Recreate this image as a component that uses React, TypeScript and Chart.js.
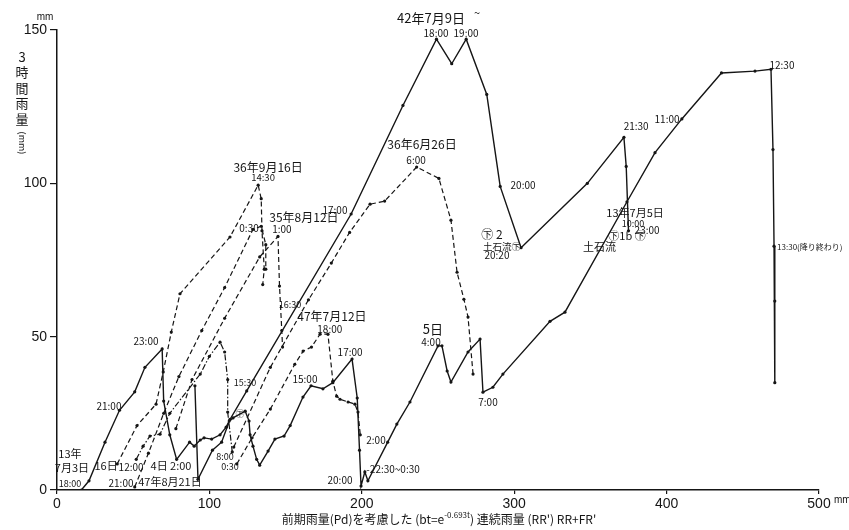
import React, { useEffect, useRef } from "react";
import { Chart, registerables } from "chart.js";

Chart.register(...registerables);

// ---- data (x: 前期雨量を考慮した連続雨量 mm, y: 3時間雨量 mm) ----
const xTicks = [0, 100, 200, 300, 400, 500];
const yTicks = [0, 50, 100, 150];

// 昭和13年7月3日〜5日 (solid)
const s13July: [number, number][] = [
  [16, 0], [21, 3], [31.5, 15.6], [41, 26], [51, 32], [57.7, 40], [69, 46],
  [70, 29], [74, 18], [78.5, 10], [87, 15.6], [90, 14.3], [94, 16.3], [96.5, 17],
  [101.5, 16.6], [107, 18], [111, 20.5], [113, 22.5], [115.5, 23.5], [123.5, 25.7],
  [126, 22.5], [126.7, 18], [128.6, 14.3], [131, 10], [133, 8.1], [138.5, 12.7],
  [143, 16.6], [149, 17.6], [153, 21], [161.4, 30.3], [166.7, 34], [174.5, 33],
  [181, 35], [193.6, 42.7], [197, 30], [198.5, 13], [199.5, 1.3], [202, 5.9],
  [204, 3], [217, 15.6], [223, 21.5], [231.6, 28.7], [250, 47], [252.6, 47],
  [256, 38.8], [258.5, 35.2], [269.7, 45], [277.6, 49.2], [279.5, 31.9],
  [286, 33.5], [292.6, 37.8], [323.5, 55], [333.3, 58], [374, 94], [392.4, 110],
  [410, 121], [436, 136], [458, 136.6], [468.5, 137.2], [469.8, 111],
  [470.5, 79.5], [471, 61.6], [471, 35],
];

// 昭和42年7月9日〜 (solid)
const s42July: [number, number][] = [
  [90.5, 34], [92.5, 3.5], [102, 13], [108, 15.6], [113.5, 23], [124.5, 32.3],
  [193, 90], [227, 125.4], [249, 147], [259, 139], [268.5, 147], [282, 129],
  [290.8, 99], [304.5, 79], [348, 100], [372, 115], [373.5, 105.5], [375, 84.5],
];

// 昭和36年9月16日 (dashed)
const s36Sep: [number, number][] = [
  [39.5, 8.5], [52.5, 21], [65, 28], [69.7, 38.5], [75, 51.5], [80.7, 64],
  [113.5, 82.5], [132, 99.4], [134, 95], [134.5, 84.5], [136, 72], [135, 67],
];

// 昭和47年8月21日 (dashed)
const s47Aug: [number, number][] = [
  [51, 1], [60, 12], [70, 25], [80, 37], [95, 52], [110, 66], [128.6, 85],
  [134, 86], [137, 80], [137, 72],
];

// 昭和35年8月12日 (dashed)
const s35Aug: [number, number][] = [
  [78, 20], [88.6, 36], [110, 56], [133, 76], [145, 82.7], [146, 66.5],
  [147.5, 52], [148, 46.6],
];

// 4日 series (dash-dot)
const sDashDot: [number, number][] = [
  [52, 10], [56.5, 14.3], [61, 17.6], [67.6, 18.2], [74, 25], [94, 37.8],
  [100, 43.6], [107, 48.2], [110, 45], [112, 36], [112, 25.4], [115, 12.4],
];

// 昭和47年7月12日 (dashed)
const s47July: [number, number][] = [
  [118, 8.5], [128, 17], [140, 26.4], [156, 41], [161.5, 45.3], [167, 46.6],
  [172.6, 50.8], [177.8, 50.8], [181, 35.5], [183.5, 30.6], [185.7, 29.6],
  [191, 28.7], [195.5, 28], [197.5, 25.4], [199, 18],
];

// 昭和36年6月26日 (dashed)
const s36June: [number, number][] = [
  [116, 14], [140, 40], [165, 62], [180, 74], [192, 84], [205.4, 93.2],
  [215, 94.2], [236, 105.3], [250.6, 101.6], [258.5, 88], [262.5, 71],
  [267, 62.2], [269.7, 56.4], [273, 37.8],
];

// annotations: text, x, y (data units), font size, align
const notes: [string, number, number, number, CanvasTextAlign?][] = [
  ["42年7月9日", 245.4, 153.9, 13],
  ["~", 275.6, 155.5, 11],
  ["18:00", 248.7, 149, 10],
  ["19:00", 268.4, 149, 10],
  ["36年9月16日", 138.5, 105.1, 12],
  ["14:30", 135.2, 101.9, 9.5],
  ["0:30", 126, 85.3, 10],
  ["35年8月12日", 162, 88.8, 12],
  ["1:00", 147.6, 84.9, 10],
  ["36年6月26日", 239.5, 112.6, 12],
  ["6:00", 235.6, 107.7, 10],
  ["17:00", 182.4, 91.1, 10],
  ["20:00", 305.8, 99.3, 10],
  ["㊦ 2", 285.4, 83.3, 12],
  ["土石流㊦", 292, 79.4, 9.5],
  ["20:20", 288.7, 76.5, 10],
  ["21:30", 380, 118.5, 10],
  ["11:00", 400.3, 121, 10],
  ["12:30", 475.7, 138.6, 10],
  ["13年7月5日", 379.3, 90.5, 11],
  ["10:00", 378, 86.9, 9],
  ["㊦1b ㊦", 374, 83, 11],
  ["土石流", 356, 79.4, 11],
  ["23:00", 379, 84.6, 10, "left"],
  ["13:30(降り終わり)", 472.5, 79.4, 8, "left"],
  ["47年7月12日", 180.4, 56.6, 12],
  ["18:00", 179, 52.4, 10],
  ["15:00", 162.7, 36.1, 10],
  ["17:00", 192.3, 44.9, 10],
  ["5日", 246.7, 52.4, 13],
  ["4:00", 245.4, 48.2, 10],
  ["7:00", 282.8, 28.6, 10],
  ["2:00", 209.3, 16.3, 10],
  ["20:00", 185.7, 3.3, 10],
  ["-22:30~0:30", 203, 6.8, 10, "left"],
  ["23:00", 58.4, 48.5, 10],
  ["21:00", 34.1, 27.3, 10],
  ["15:30", 123.4, 35.1, 9],
  ["16:30", 152.9, 60.5, 9],
  ["8:00", 110.2, 11, 9],
  ["0:30", 113.5, 7.5, 9],
  ["13年", 8.5, 11.7, 11],
  ["7月3日", 9.8, 7.2, 11],
  ["18:00", 8.5, 2, 9],
  ["16日", 32.2, 7.8, 11],
  ["12:00", 48.6, 7.5, 10],
  ["4日 2:00", 74.8, 7.8, 11],
  ["21:00", 42, 2.3, 10],
  ["47年8月21日", 74.1, 2.6, 11],
  ["㊦", 120, 25, 9],
];

const JP = '"Noto Sans CJK JP", "DejaVu Sans", sans-serif';
const INK = "#151515";

const textPlugin = {
  id: "notes",
  afterDraw(chart: any) {
    const ctx = chart.ctx as CanvasRenderingContext2D;
    const xs = chart.scales.x;
    const ys = chart.scales.y;
    ctx.save();
    ctx.fillStyle = INK;
    ctx.textBaseline = "middle";
    for (const [t, x, y, size, align] of notes) {
      ctx.font = `${size}px ${JP}`;
      ctx.textAlign = align || "center";
      ctx.fillText(t, xs.getPixelForValue(x), ys.getPixelForValue(y));
    }
    // axis titles
    const left = chart.chartArea.left;
    const top = chart.chartArea.top;
    ctx.textAlign = "center";
    ctx.font = `13px ${JP}`;
    const ychars = ["3", "時", "間", "雨", "量"];
    ychars.forEach((c, i) => ctx.fillText(c, left - 35, top + 27 + i * 15.5));
    ctx.save();
    ctx.translate(left - 35, top + 113);
    ctx.rotate(Math.PI / 2);
    ctx.font = `9px ${JP}`;
    ctx.fillText("(mm)", 0, 0);
    ctx.restore();
    ctx.font = `10px "Liberation Sans", sans-serif`;
    ctx.fillText("mm", left - 12, top - 13);
    ctx.textAlign = "left";
    ctx.fillText("mm", chart.chartArea.right + 15, chart.chartArea.bottom + 10);
    // x title
    const cx = (chart.chartArea.left + chart.chartArea.right) / 2 + 1;
    const by = chart.chartArea.bottom + 29;
    const parts: [string, number][] = [
      ["前期雨量(Pd)を考慮した (bt=e", 12],
      ["-0.693t", 8],
      [") 連続雨量 (RR') RR+FR'", 12],
    ];
    let total = 0;
    parts.forEach(([s, sz]) => {
      ctx.font = `${sz}px ${JP}`;
      total += ctx.measureText(s).width;
    });
    let px = cx - total / 2;
    parts.forEach(([s, sz]) => {
      ctx.font = `${sz}px ${JP}`;
      ctx.fillText(s, px, sz < 10 ? by - 4 : by);
      px += ctx.measureText(s).width;
    });
    ctx.restore();
  },
};

const solid = (data: [number, number][]) => ({
  data: data.map(([x, y]) => ({ x, y })),
  showLine: true,
  borderColor: INK,
  backgroundColor: INK,
  borderWidth: 1.4,
  pointRadius: 1.6,
  pointBorderWidth: 0,
  tension: 0,
});
const dashed = (data: [number, number][], dash: number[] = [5, 3]) => ({
  ...solid(data),
  borderDash: dash,
  borderWidth: 1.2,
});

export default function App() {
  const ref = useRef<HTMLCanvasElement>(null);
  useEffect(() => {
    if (!ref.current) return;
    const chart = new Chart(ref.current, {
      type: "scatter",
      data: {
        datasets: [
          solid(s13July),
          solid(s42July),
          dashed(s36Sep),
          dashed(s47Aug),
          dashed(s35Aug),
          dashed(sDashDot, [6, 2, 1.5, 2]),
          dashed(s47July),
          dashed(s36June),
        ] as any,
      },
      options: {
        responsive: false,
        animation: false,
        layout: { padding: { top: 30, right: 30, bottom: 0, left: 0 } },
        plugins: { legend: { display: false }, tooltip: { enabled: false } },
        scales: {
          x: {
            type: "linear",
            min: 0,
            max: 500,
            afterBuildTicks: (s: any) => {
              s.ticks = xTicks.map((v) => ({ value: v }));
            },
            afterFit: (s: any) => {
              s.height = 40;
              s.paddingLeft = 0;
              s.paddingRight = 0;
            },
            border: { color: INK, width: 1.5 },
            grid: { display: true, drawOnChartArea: false, color: INK, tickLength: 4, lineWidth: 1.2 },
            ticks: {
              color: INK,
              font: { family: '"Liberation Sans", sans-serif', size: 14 },
              padding: 2,
              maxRotation: 0,
            },
          },
          y: {
            type: "linear",
            min: 0,
            max: 150,
            afterBuildTicks: (s: any) => {
              s.ticks = yTicks.map((v) => ({ value: v }));
            },
            afterFit: (s: any) => {
              s.width = 57;
              s.paddingTop = 0;
              s.paddingBottom = 0;
            },
            border: { color: INK, width: 1.5 },
            grid: { display: true, drawOnChartArea: false, color: INK, tickLength: 7, lineWidth: 1.2 },
            ticks: {
              color: INK,
              font: { family: '"Liberation Sans", sans-serif', size: 14 },
              padding: 3,
            },
          },
        },
      },
      plugins: [textPlugin],
    });
    return () => chart.destroy();
  }, []);
  return (
    <div style={{ position: "fixed", left: 0, top: 0, width: 849, height: 530, background: "#fff" }}>
      <canvas ref={ref} width={849} height={530} style={{ width: 849, height: 530 }} />
    </div>
  );
}
